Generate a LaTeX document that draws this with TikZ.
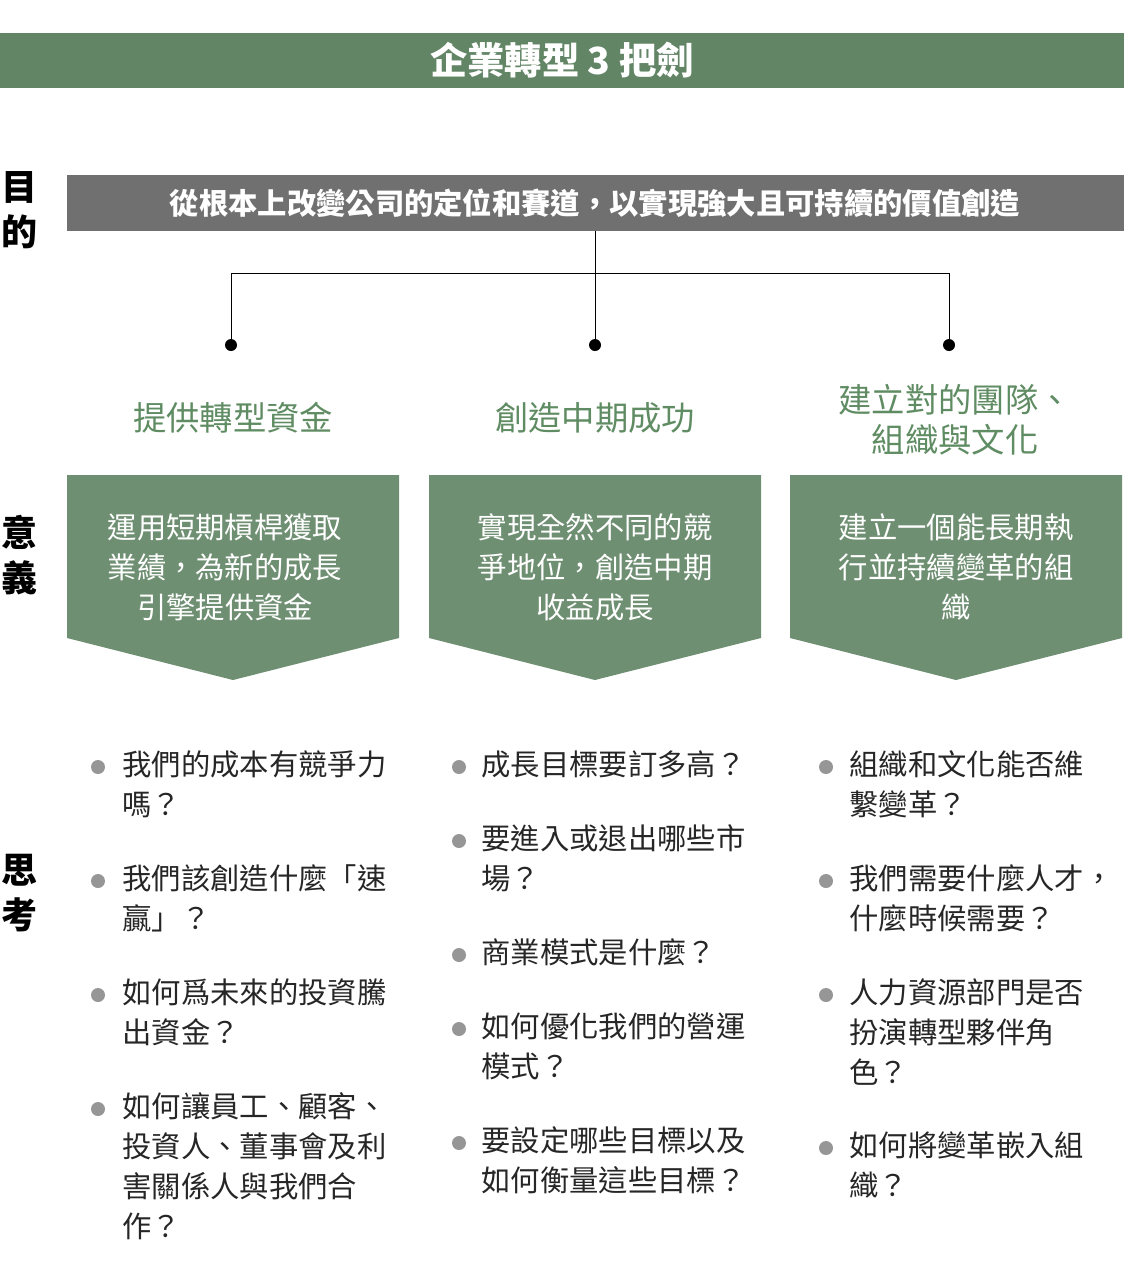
\documentclass[tikz,border=0pt]{standalone}
\usepackage{fontspec}
\setmainfont{Noto Sans CJK TC}
\usetikzlibrary{positioning}
\definecolor{barGreen}{RGB}{98,133,102}
\definecolor{boxGreen}{RGB}{111,143,114}
\definecolor{headGreen}{RGB}{95,140,98}
\definecolor{barGray}{RGB}{112,112,112}
\definecolor{dotGray}{RGB}{150,150,150}
\tikzset{every picture/.style={line width=0.75pt}}
\tikzset{
  sidelabel/.style={font=\fontsize{27}{34}\selectfont\bfseries, align=center, inner sep=0pt},
  headtext/.style={text=headGreen, font=\fontsize{25}{30}\selectfont, align=center, inner sep=0pt},
  boxtext/.style={text=white, font=\fontsize{22}{30}\selectfont, align=center, inner sep=0pt},
  qtext/.style={anchor=north west, font=\fontsize{22}{30}\selectfont, align=left, inner sep=0pt, text=black!85},
  qdot/.style={circle, fill=dotGray, minimum size=10.5pt, inner sep=0pt},
}

\begin{document}
\begin{tikzpicture}[x=0.75pt,y=0.75pt,yscale=-1,xscale=1]
\useasboundingbox (0,0) rectangle (1124,1272);

% title bar
\fill [barGreen] (0,33) rectangle (1124,88);
\node (title) at (562,60) [text=white, font=\fontsize{28}{34}\selectfont\bfseries] {企業轉型 3 把劍};

% side labels
\node (lbl1) at (20,210) [sidelabel] {目\\的};
\node (lbl2) at (20,555) [sidelabel] {意\\義};
\node (lbl3) at (20,893) [sidelabel] {思\\考};

% goal bar
\fill [barGray] (67,175) rectangle (1124,231);
\node (goal) at (595,203) [text=white, font=\fontsize{22}{30}\selectfont\bfseries] {從根本上改變公司的定位和賽道，以實現強大且可持續的價值創造};

% connectors
\coordinate (top) at (595,231);
\coordinate (mid) at (595,273);
\coordinate (l) at (231,273);
\coordinate (r) at (949,273);
\node (d1) at (231,345) [circle, fill=black, inner sep=0pt, minimum size=9pt] {};
\node (d2) at (595,345) [circle, fill=black, inner sep=0pt, minimum size=9pt] {};
\node (d3) at (949,345) [circle, fill=black, inner sep=0pt, minimum size=9pt] {};
\draw (top) -- (d2.center);
\draw (l) -- (r);
\draw (l) -- (d1.center);
\draw (r) -- (d3.center);

% headers
\node (h1) at (233,418) [headtext] {提供轉型資金};
\node (h2) at (595,418) [headtext] {創造中期成功};
\node (h3) at (955,420) [headtext] {建立對的團隊、\\組織與文化};

% chevron boxes
\fill [boxGreen] (67,475) -- (399,475) -- (399,638) -- (233,680) -- (67,638) -- cycle;
\fill [boxGreen] (429,475) -- (761,475) -- (761,638) -- (595,680) -- (429,638) -- cycle;
\fill [boxGreen] (790,475) -- (1122,475) -- (1122,638) -- (956,680) -- (790,638) -- cycle;
\node (b1) at (225,567) [boxtext] {運用短期槓桿獲取\\業績，為新的成長\\引擎提供資金};
\node (b2) at (595,567) [boxtext] {實現全然不同的競\\爭地位，創造中期\\收益成長};
\node (b3) at (956,567) [boxtext] {建立一個能長期執\\行並持續變革的組\\織};

% column 1
\node (p1) at (98,767) [qdot] {};
\node (q1) at (122,750) [qtext] {我們的成本有競爭力\\嗎？};
\node (p2) at (98,881) [qdot] {};
\node (q2) at (122,864) [qtext] {我們該創造什麼「速\\贏」？};
\node (p3) at (98,995) [qdot] {};
\node (q3) at (122,978) [qtext] {如何爲未來的投資騰\\出資金？};
\node (p4) at (98,1109) [qdot] {};
\node (q4) at (122,1092) [qtext] {如何讓員工、顧客、\\投資人、董事會及利\\害關係人與我們合\\作？};

% column 2
\node (p5) at (459,767) [qdot] {};
\node (q5) at (481,750) [qtext] {成長目標要訂多高？};
\node (p6) at (459,841) [qdot] {};
\node (q6) at (481,824) [qtext] {要進入或退出哪些市\\場？};
\node (p7) at (459,955) [qdot] {};
\node (q7) at (481,938) [qtext] {商業模式是什麼？};
\node (p8) at (459,1029) [qdot] {};
\node (q8) at (481,1012) [qtext] {如何優化我們的營運\\模式？};
\node (p9) at (459,1143) [qdot] {};
\node (q9) at (481,1126) [qtext] {要設定哪些目標以及\\如何衡量這些目標？};

% column 3
\node (p10) at (826,767) [qdot] {};
\node (q10) at (849,750) [qtext] {組織和文化能否維\\繫變革？};
\node (p11) at (826,881) [qdot] {};
\node (q11) at (849,864) [qtext] {我們需要什麼人才，\\什麼時候需要？};
\node (p12) at (826,995) [qdot] {};
\node (q12) at (849,978) [qtext] {人力資源部門是否\\扮演轉型夥伴角\\色？};
\node (p13) at (826,1148) [qdot] {};
\node (q13) at (849,1131) [qtext] {如何將變革嵌入組\\織？};
\end{tikzpicture}
\end{document}
